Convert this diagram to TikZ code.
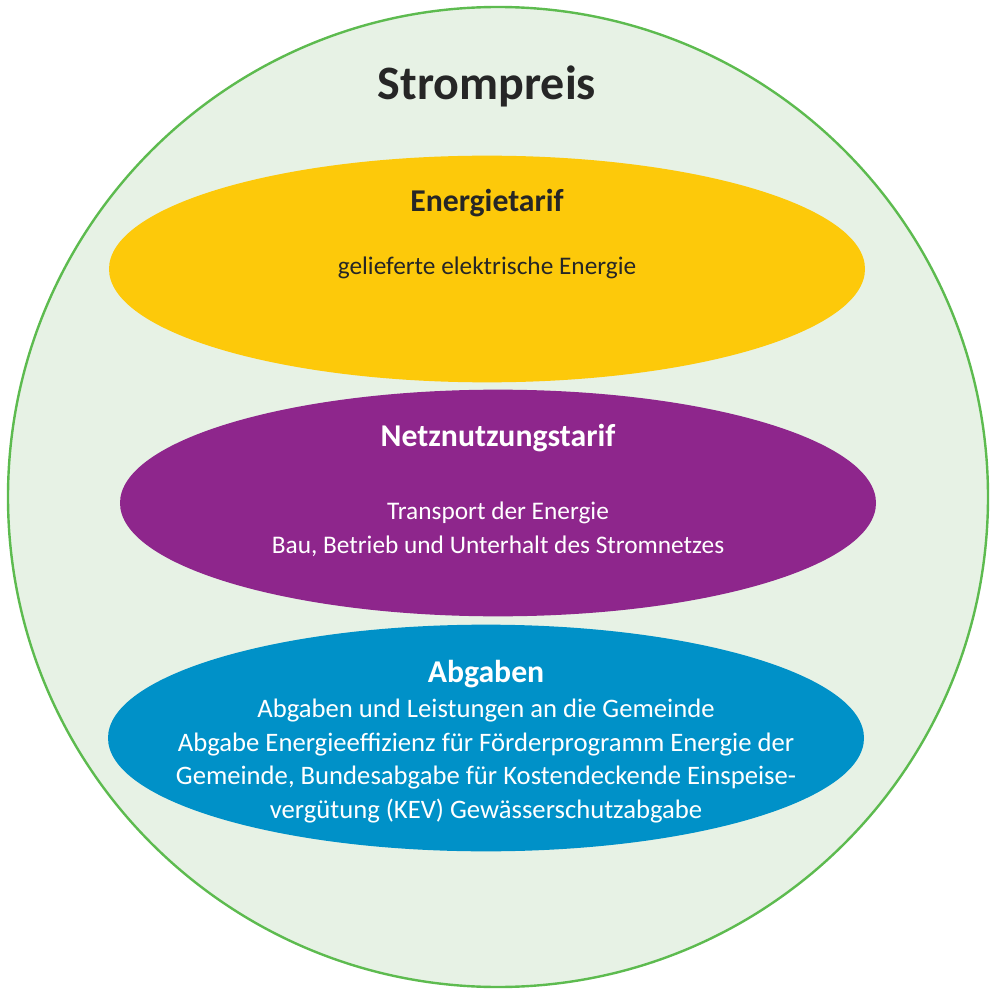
\documentclass[tikz,border=0pt]{standalone}
\usepackage{fontspec}
\setmainfont{Carlito}
\usetikzlibrary{shapes.geometric}

\definecolor{kreisgruen}{HTML}{E7F2E5}
\definecolor{randgruen}{HTML}{5DBB4F}
\definecolor{gelb}{HTML}{FDC90A}
\definecolor{lila}{HTML}{8E268C}
\definecolor{blau}{HTML}{0091C8}
\definecolor{dunkel}{HTML}{262626}

\tikzset{
    teil/.style = {ellipse, inner sep = 0pt, minimum width = 567pt, minimum height = 170pt},
    kopf/.style = {font = \fontsize{23.8}{28}\selectfont\bfseries},
    inhalt/.style = {font = \fontsize{19}{25.5}\selectfont, align = center}
}

\begin{document}
\begin{tikzpicture}[x = 0.75pt, y = -0.75pt]
    \useasboundingbox (0, 0) rectangle (996, 991);

    \node (preis) [circle, fill = kreisgruen, draw = randgruen, line width = 1.8pt, minimum size = 735pt] at (498, 497) {};
    \node (titel) [font = \fontsize{36}{40}\selectfont\bfseries, text = dunkel] at (487, 86) {Strompreis};

    % Energietarif
    \node (energie) [teil, fill = gelb] at (487, 269) {};
    \node (energiekopf) [kopf, text = dunkel] at (487, 203) {Energietarif};
    \node (energietext) [inhalt, text = dunkel] at (487, 268) {gelieferte elektrische Energie};

    % Netznutzungstarif
    \node (netz) [teil, fill = lila] at (498, 503) {};
    \node (netzkopf) [kopf, text = white] at (498, 438) {Netznutzungstarif};
    \node (netztext) [inhalt, text = white] at (498, 529.5) {Transport der Energie\\Bau, Betrieb und Unterhalt des Stromnetzes};

    % Abgaben
    \node (abgaben) [teil, fill = blau] at (486, 738) {};
    \node (abgabenkopf) [kopf, text = white] at (486, 674) {Abgaben};
    \node (abgabentext) [inhalt, font = \fontsize{20}{25.3}\selectfont, text = white] at (486, 761) {Abgaben und Leistungen an die Gemeinde\\Abgabe Energieeffizienz für Förderprogramm Energie der\\Gemeinde, Bundesabgabe für Kostendeckende Einspeise-\\vergütung (KEV) Gewässerschutzabgabe};

\end{tikzpicture}
\end{document}
